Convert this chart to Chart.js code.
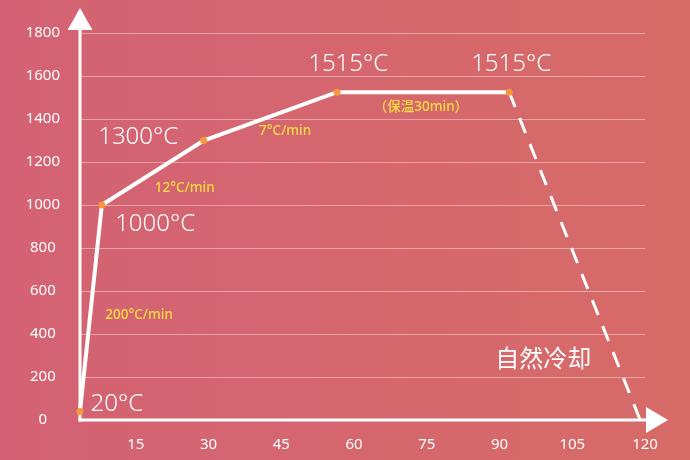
<!DOCTYPE html>
<html>
<head>
<meta charset="utf-8">
<script src="https://cdn.jsdelivr.net/npm/chart.js@4/dist/chart.umd.min.js"></script>
<style>
  html, body { margin: 0; padding: 0; }
  body {
    width: 690px; height: 460px; overflow: hidden;
    background: linear-gradient(90deg, #d46274 0%, #d5666e 50%, #d76b67 100%);
  }
  #wrap { position: relative; width: 690px; height: 460px; }
</style>
</head>
<body>
<div id="wrap"><canvas id="curve" width="690" height="460"></canvas></div>
<script>
// time (min) vs temperature (°C)
const timeMin = [3.5, 8, 29, 56.5, 92, 119];
const tempC = [40, 1000, 1300, 1525, 1525, 0];
const xTicks = [15, 30, 45, 60, 75, 90, 105, 120];

// text labels placed in data coordinates
const bigLabels = [
  { text: '20°C', x: 11.1, y: 74 },
  { text: '1000°C', x: 19, y: 912 },
  { text: '1300°C', x: 15.5, y: 1316 },
  { text: '1515°C', x: 58.8, y: 1656 },
  { text: '1515°C', x: 92.4, y: 1656 },
  { text: '自然冷却', x: 99, y: 279 }
];
const rateLabels = [
  { text: '200°C/min', x: 15.7, y: 488 },
  { text: '12°C/min', x: 25.1, y: 1079 },
  { text: '7°C/min', x: 45.8, y: 1344 },
  { text: '（保温30min）', x: 73.8, y: 1456 }
];

const WHITE = '#ffffff';
const ORANGE = '#f5993c';
const YELLOW = '#f3dc3f';
const FONT = '"Noto Sans", "Noto Sans CJK SC", sans-serif';

const axesAndText = {
  id: 'axesAndText',
  beforeDatasetsDraw(chart) {
    const { ctx, chartArea } = chart;
    const x0 = chartArea.left, y0 = chartArea.bottom;
    ctx.save();
    ctx.strokeStyle = WHITE;
    ctx.fillStyle = WHITE;
    ctx.lineWidth = 3;
    // y axis with arrow
    ctx.beginPath();
    ctx.moveTo(x0, y0 + 1.5);
    ctx.lineTo(x0, 28);
    ctx.stroke();
    ctx.beginPath();
    ctx.moveTo(x0, 8);
    ctx.lineTo(x0 - 12.5, 30);
    ctx.lineTo(x0 + 12.5, 30);
    ctx.closePath();
    ctx.fill();
    // x axis with arrow
    ctx.beginPath();
    ctx.moveTo(x0 - 1.5, y0);
    ctx.lineTo(648, y0);
    ctx.stroke();
    ctx.beginPath();
    ctx.moveTo(668, y0);
    ctx.lineTo(646, y0 - 13);
    ctx.lineTo(646, y0 + 13);
    ctx.closePath();
    ctx.fill();
    ctx.restore();
  },
  afterDatasetsDraw(chart) {
    const { ctx, scales } = chart;
    ctx.save();
    ctx.textAlign = 'center';
    ctx.textBaseline = 'middle';
    ctx.fillStyle = WHITE;
    bigLabels.forEach(l => {
      ctx.font = (/^[\x00-\x7f°]+$/.test(l.text) ? '300 ' : '400 ') + '24px ' + FONT;
      ctx.fillText(l.text, scales.x.getPixelForValue(l.x), scales.y.getPixelForValue(l.y));
    });
    ctx.fillStyle = YELLOW;
    ctx.font = '500 13.5px ' + FONT;
    rateLabels.forEach(l => {
      ctx.fillText(l.text, scales.x.getPixelForValue(l.x), scales.y.getPixelForValue(l.y));
    });
    ctx.restore();
  }
};

new Chart(document.getElementById('curve'), {
  type: 'line',
  data: {
    datasets: [{
      data: timeMin.map((t, i) => ({ x: t, y: tempC[i] })),
      borderColor: WHITE,
      borderWidth: 4,
      tension: 0,
      clip: false,
      pointRadius: [3.5, 3.5, 3.5, 3.5, 3.5, 0],
      pointBackgroundColor: ORANGE,
      pointBorderWidth: 0,
      segment: {
        borderDash: c => c.p1DataIndex === timeMin.length - 1 ? [16, 12] : undefined,
        borderWidth: c => c.p1DataIndex === timeMin.length - 1 ? 3 : 4
      }
    }]
  },
  options: {
    responsive: false,
    animation: false,
    devicePixelRatio: 1,
    layout: { padding: { top: 33, right: 45, left: 0, bottom: 0 } },
    plugins: { legend: { display: false }, tooltip: { enabled: false } },
    scales: {
      x: {
        type: 'linear',
        min: 3.5,
        max: 120,
        afterBuildTicks: s => { s.ticks = xTicks.map(v => ({ value: v })); },
        afterFit: s => { s.height = 40; },
        grid: { display: false, drawTicks: false },
        border: { display: false },
        ticks: {
          color: WHITE,
          padding: 16,
          maxRotation: 0,
          font: { size: 15, family: FONT }
        }
      },
      y: {
        min: 0,
        max: 1800,
        afterFit: s => { s.width = 80; },
        grid: {
          drawTicks: false,
          color: c => c.tick.value === 0 ? 'rgba(0,0,0,0)' : 'rgba(255,255,255,0.4)',
          lineWidth: 1
        },
        border: { display: false },
        ticks: {
          stepSize: 200,
          color: WHITE,
          padding: 20,
          crossAlign: 'center',
          callback: v => String(v),
          font: { size: 15, family: FONT }
        }
      }
    }
  },
  plugins: [axesAndText]
});
</script>
</body>
</html>
